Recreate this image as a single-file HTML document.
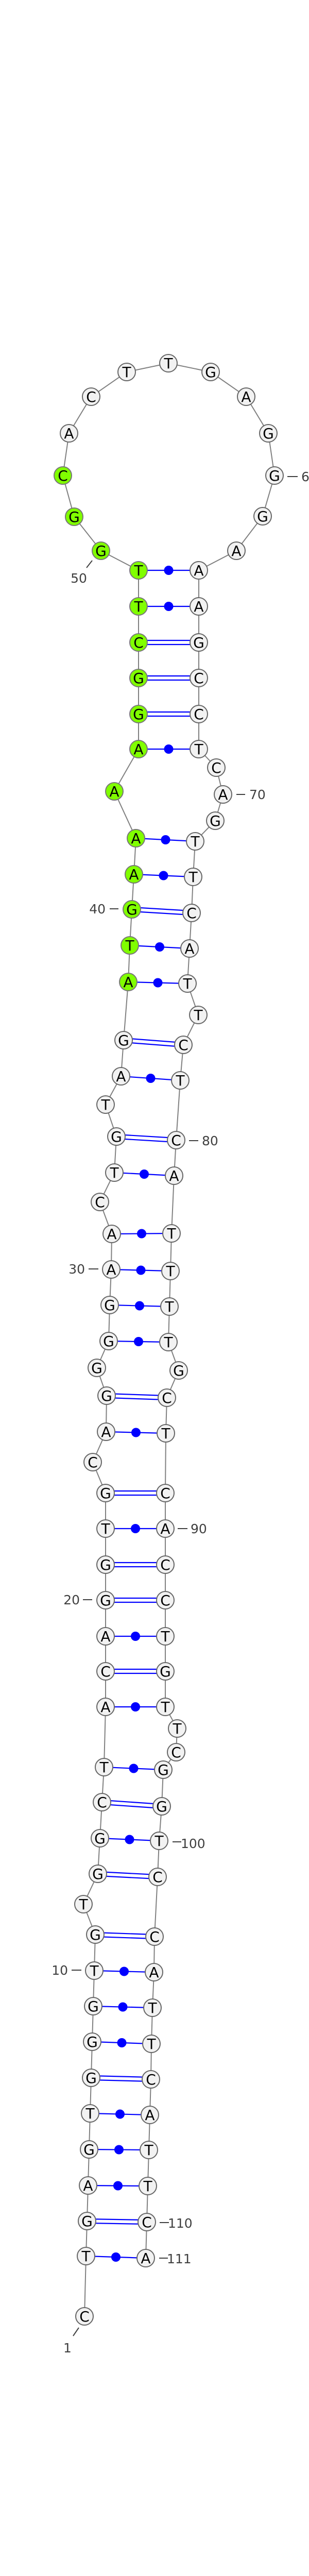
<!DOCTYPE html>
<html><head><meta charset="utf-8"><style>
html,body{margin:0;padding:0;background:#fff;width:600px;height:5166px;overflow:hidden}
svg{display:block}
.bb{fill:none;stroke:#808080;stroke-width:2}
.p{stroke:#0000ff;stroke-width:2.2}
.d{fill:#0000ff}
.n{fill:#f2f2f2;stroke:#666;stroke-width:2}
.g{fill:#80ff00;stroke:#777;stroke-width:2}
.t{font-family:"DejaVu Sans","Liberation Sans",sans-serif;font-size:28px;fill:#000;text-anchor:middle}
.l{font-family:"DejaVu Sans","Liberation Sans",sans-serif;font-size:25px;fill:#404040}
.k{stroke:#404040;stroke-width:2}
</style></head><body>
<svg width="600" height="5166" viewBox="0 0 600 5166" xmlns="http://www.w3.org/2000/svg">
<polyline class="bb" points="164,4496 167,4379 169,4311 171,4242 173,4172 175,4102 177,4033 179,3963 181,3894 183,3825 185,3755 162,3696 190,3637 194,3568 198,3498 202,3430 205,3313 205,3244 205,3176 205,3106 205,3037 205,2967 205,2898 180,2838 206,2779 207,2709 188,2655 211,2603 213,2533 216,2464 217,2395 194,2333 222,2276 226,2206 205,2144 235,2089 240,2019 249,1906 252,1835 256,1765 260,1697 264,1627 222,1536 269,1454 269,1386 269,1316 269,1247 269,1177 269,1107 196,1069 144,1003 122,923 134,841 177,770 246,722 327,705 409,722 478,770 521,841 533,923 510,1002 459,1069 386,1107 386,1177 386,1247 386,1316 386,1386 386,1454 420,1490 433,1542 418,1593 379,1633 375,1702 372,1772 368,1841 364,1909 385,1970 356,2028 350,2097 342,2213 338,2282 333,2394 331,2467 329,2536 327,2605 347,2660 324,2713 322,2782 321,2898 321,2967 321,3037 321,3106 321,3176 321,3244 321,3313 344,3355 342,3401 317,3435 314,3506 309,3573 306,3643 300,3759 299,3828 296,3897 294,3967 293,4036 291,4105 289,4173 287,4243 285,4313 283,4383"/>
<g class="p">
<line x1="167" y1="4379" x2="283" y2="4383"/>
<line x1="171" y1="4242" x2="287" y2="4243"/>
<line x1="173" y1="4172" x2="289" y2="4173"/>
<line x1="175" y1="4102" x2="291" y2="4105"/>
<line x1="179" y1="3963" x2="294" y2="3967"/>
<line x1="181" y1="3894" x2="296" y2="3897"/>
<line x1="183" y1="3825" x2="299" y2="3828"/>
<line x1="194" y1="3568" x2="309" y2="3573"/>
<line x1="202" y1="3430" x2="317" y2="3435"/>
<line x1="205" y1="3313" x2="321" y2="3313"/>
<line x1="205" y1="3176" x2="321" y2="3176"/>
<line x1="205" y1="2967" x2="321" y2="2967"/>
<line x1="206" y1="2779" x2="322" y2="2782"/>
<line x1="211" y1="2603" x2="327" y2="2605"/>
<line x1="213" y1="2533" x2="329" y2="2536"/>
<line x1="216" y1="2464" x2="331" y2="2467"/>
<line x1="217" y1="2395" x2="333" y2="2394"/>
<line x1="222" y1="2276" x2="338" y2="2282"/>
<line x1="235" y1="2089" x2="350" y2="2097"/>
<line x1="249" y1="1906" x2="364" y2="1909"/>
<line x1="252" y1="1835" x2="368" y2="1841"/>
<line x1="260" y1="1697" x2="375" y2="1702"/>
<line x1="264" y1="1627" x2="379" y2="1633"/>
<line x1="269" y1="1454" x2="386" y2="1454"/>
<line x1="269" y1="1177" x2="386" y2="1177"/>
<line x1="269" y1="1107" x2="386" y2="1107"/>
<line x1="169" y1="4307" x2="285" y2="4309"/><line x1="169" y1="4315" x2="285" y2="4317"/>
<line x1="177" y1="4029" x2="293" y2="4032"/><line x1="177" y1="4037" x2="293" y2="4040"/>
<line x1="185" y1="3751" x2="300" y2="3755"/><line x1="185" y1="3759" x2="300" y2="3763"/>
<line x1="190" y1="3633" x2="306" y2="3639"/><line x1="190" y1="3641" x2="306" y2="3647"/>
<line x1="198" y1="3494" x2="314" y2="3502"/><line x1="198" y1="3502" x2="314" y2="3510"/>
<line x1="205" y1="3240" x2="321" y2="3240"/><line x1="205" y1="3248" x2="321" y2="3248"/>
<line x1="205" y1="3102" x2="321" y2="3102"/><line x1="205" y1="3110" x2="321" y2="3110"/>
<line x1="205" y1="3033" x2="321" y2="3033"/><line x1="205" y1="3041" x2="321" y2="3041"/>
<line x1="205" y1="2894" x2="321" y2="2894"/><line x1="205" y1="2902" x2="321" y2="2902"/>
<line x1="207" y1="2705" x2="324" y2="2709"/><line x1="207" y1="2713" x2="324" y2="2717"/>
<line x1="226" y1="2202" x2="342" y2="2209"/><line x1="226" y1="2210" x2="342" y2="2217"/>
<line x1="240" y1="2015" x2="356" y2="2024"/><line x1="240" y1="2023" x2="356" y2="2032"/>
<line x1="256" y1="1761" x2="372" y2="1768"/><line x1="256" y1="1769" x2="372" y2="1776"/>
<line x1="269" y1="1382" x2="386" y2="1382"/><line x1="269" y1="1390" x2="386" y2="1390"/>
<line x1="269" y1="1312" x2="386" y2="1312"/><line x1="269" y1="1320" x2="386" y2="1320"/>
<line x1="269" y1="1243" x2="386" y2="1243"/><line x1="269" y1="1251" x2="386" y2="1251"/>
</g>
<g class="d">
<circle cx="225" cy="4381" r="9"/><circle cx="229" cy="4242.5" r="9"/><circle cx="231" cy="4172.5" r="9"/><circle cx="233" cy="4103.5" r="9"/>
<circle cx="236.5" cy="3965" r="9"/><circle cx="238.5" cy="3895.5" r="9"/><circle cx="241" cy="3826.5" r="9"/><circle cx="251.5" cy="3570.5" r="9"/>
<circle cx="259.5" cy="3432.5" r="9"/><circle cx="263" cy="3313" r="9"/><circle cx="263" cy="3176" r="9"/><circle cx="263" cy="2967" r="9"/>
<circle cx="264" cy="2780.5" r="9"/><circle cx="269" cy="2604" r="9"/><circle cx="271" cy="2534.5" r="9"/><circle cx="273.5" cy="2465.5" r="9"/>
<circle cx="275" cy="2394.5" r="9"/><circle cx="280" cy="2279" r="9"/><circle cx="292.5" cy="2093" r="9"/><circle cx="306.5" cy="1907.5" r="9"/>
<circle cx="310" cy="1838" r="9"/><circle cx="317.5" cy="1699.5" r="9"/><circle cx="321.5" cy="1630" r="9"/><circle cx="327.5" cy="1454" r="9"/>
<circle cx="327.5" cy="1177" r="9"/><circle cx="327.5" cy="1107" r="9"/>
</g>
<g>
<circle class="n" cx="164" cy="4496" r="17"/><text class="t" x="164" y="4506">C</text>
<circle class="n" cx="167" cy="4379" r="17"/><text class="t" x="167" y="4389">T</text>
<circle class="n" cx="169" cy="4311" r="17"/><text class="t" x="169" y="4321">G</text>
<circle class="n" cx="171" cy="4242" r="17"/><text class="t" x="171" y="4252">A</text>
<circle class="n" cx="173" cy="4172" r="17"/><text class="t" x="173" y="4182">G</text>
<circle class="n" cx="175" cy="4102" r="17"/><text class="t" x="175" y="4112">T</text>
<circle class="n" cx="177" cy="4033" r="17"/><text class="t" x="177" y="4043">G</text>
<circle class="n" cx="179" cy="3963" r="17"/><text class="t" x="179" y="3973">G</text>
<circle class="n" cx="181" cy="3894" r="17"/><text class="t" x="181" y="3904">G</text>
<circle class="n" cx="183" cy="3825" r="17"/><text class="t" x="183" y="3835">T</text>
<circle class="n" cx="185" cy="3755" r="17"/><text class="t" x="185" y="3765">G</text>
<circle class="n" cx="162" cy="3696" r="17"/><text class="t" x="162" y="3706">T</text>
<circle class="n" cx="190" cy="3637" r="17"/><text class="t" x="190" y="3647">G</text>
<circle class="n" cx="194" cy="3568" r="17"/><text class="t" x="194" y="3578">G</text>
<circle class="n" cx="198" cy="3498" r="17"/><text class="t" x="198" y="3508">C</text>
<circle class="n" cx="202" cy="3430" r="17"/><text class="t" x="202" y="3440">T</text>
<circle class="n" cx="205" cy="3313" r="17"/><text class="t" x="205" y="3323">A</text>
<circle class="n" cx="205" cy="3244" r="17"/><text class="t" x="205" y="3254">C</text>
<circle class="n" cx="205" cy="3176" r="17"/><text class="t" x="205" y="3186">A</text>
<circle class="n" cx="205" cy="3106" r="17"/><text class="t" x="205" y="3116">G</text>
<circle class="n" cx="205" cy="3037" r="17"/><text class="t" x="205" y="3047">G</text>
<circle class="n" cx="205" cy="2967" r="17"/><text class="t" x="205" y="2977">T</text>
<circle class="n" cx="205" cy="2898" r="17"/><text class="t" x="205" y="2908">G</text>
<circle class="n" cx="180" cy="2838" r="17"/><text class="t" x="180" y="2848">C</text>
<circle class="n" cx="206" cy="2779" r="17"/><text class="t" x="206" y="2789">A</text>
<circle class="n" cx="207" cy="2709" r="17"/><text class="t" x="207" y="2719">G</text>
<circle class="n" cx="188" cy="2655" r="17"/><text class="t" x="188" y="2665">G</text>
<circle class="n" cx="211" cy="2603" r="17"/><text class="t" x="211" y="2613">G</text>
<circle class="n" cx="213" cy="2533" r="17"/><text class="t" x="213" y="2543">G</text>
<circle class="n" cx="216" cy="2464" r="17"/><text class="t" x="216" y="2474">A</text>
<circle class="n" cx="217" cy="2395" r="17"/><text class="t" x="217" y="2405">A</text>
<circle class="n" cx="194" cy="2333" r="17"/><text class="t" x="194" y="2343">C</text>
<circle class="n" cx="222" cy="2276" r="17"/><text class="t" x="222" y="2286">T</text>
<circle class="n" cx="226" cy="2206" r="17"/><text class="t" x="226" y="2216">G</text>
<circle class="n" cx="205" cy="2144" r="17"/><text class="t" x="205" y="2154">T</text>
<circle class="n" cx="235" cy="2089" r="17"/><text class="t" x="235" y="2099">A</text>
<circle class="n" cx="240" cy="2019" r="17"/><text class="t" x="240" y="2029">G</text>
<circle class="g" cx="249" cy="1906" r="17"/><text class="t" x="249" y="1916">A</text>
<circle class="g" cx="252" cy="1835" r="17"/><text class="t" x="252" y="1845">T</text>
<circle class="g" cx="256" cy="1765" r="17"/><text class="t" x="256" y="1775">G</text>
<circle class="g" cx="260" cy="1697" r="17"/><text class="t" x="260" y="1707">A</text>
<circle class="g" cx="264" cy="1627" r="17"/><text class="t" x="264" y="1637">A</text>
<circle class="g" cx="222" cy="1536" r="17"/><text class="t" x="222" y="1546">A</text>
<circle class="g" cx="269" cy="1454" r="17"/><text class="t" x="269" y="1464">A</text>
<circle class="g" cx="269" cy="1386" r="17"/><text class="t" x="269" y="1396">G</text>
<circle class="g" cx="269" cy="1316" r="17"/><text class="t" x="269" y="1326">G</text>
<circle class="g" cx="269" cy="1247" r="17"/><text class="t" x="269" y="1257">C</text>
<circle class="g" cx="269" cy="1177" r="17"/><text class="t" x="269" y="1187">T</text>
<circle class="g" cx="269" cy="1107" r="17"/><text class="t" x="269" y="1117">T</text>
<circle class="g" cx="196" cy="1069" r="17"/><text class="t" x="196" y="1079">G</text>
<circle class="g" cx="144" cy="1003" r="17"/><text class="t" x="144" y="1013">G</text>
<circle class="g" cx="122" cy="923" r="17"/><text class="t" x="122" y="933">C</text>
<circle class="n" cx="134" cy="841" r="17"/><text class="t" x="134" y="851">A</text>
<circle class="n" cx="177" cy="770" r="17"/><text class="t" x="177" y="780">C</text>
<circle class="n" cx="246" cy="722" r="17"/><text class="t" x="246" y="732">T</text>
<circle class="n" cx="327" cy="705" r="17"/><text class="t" x="327" y="715">T</text>
<circle class="n" cx="409" cy="722" r="17"/><text class="t" x="409" y="732">G</text>
<circle class="n" cx="478" cy="770" r="17"/><text class="t" x="478" y="780">A</text>
<circle class="n" cx="521" cy="841" r="17"/><text class="t" x="521" y="851">G</text>
<circle class="n" cx="533" cy="923" r="17"/><text class="t" x="533" y="933">G</text>
<circle class="n" cx="510" cy="1002" r="17"/><text class="t" x="510" y="1012">G</text>
<circle class="n" cx="459" cy="1069" r="17"/><text class="t" x="459" y="1079">A</text>
<circle class="n" cx="386" cy="1107" r="17"/><text class="t" x="386" y="1117">A</text>
<circle class="n" cx="386" cy="1177" r="17"/><text class="t" x="386" y="1187">A</text>
<circle class="n" cx="386" cy="1247" r="17"/><text class="t" x="386" y="1257">G</text>
<circle class="n" cx="386" cy="1316" r="17"/><text class="t" x="386" y="1326">C</text>
<circle class="n" cx="386" cy="1386" r="17"/><text class="t" x="386" y="1396">C</text>
<circle class="n" cx="386" cy="1454" r="17"/><text class="t" x="386" y="1464">T</text>
<circle class="n" cx="420" cy="1490" r="17"/><text class="t" x="420" y="1500">C</text>
<circle class="n" cx="433" cy="1542" r="17"/><text class="t" x="433" y="1552">A</text>
<circle class="n" cx="418" cy="1593" r="17"/><text class="t" x="418" y="1603">G</text>
<circle class="n" cx="379" cy="1633" r="17"/><text class="t" x="379" y="1643">T</text>
<circle class="n" cx="375" cy="1702" r="17"/><text class="t" x="375" y="1712">T</text>
<circle class="n" cx="372" cy="1772" r="17"/><text class="t" x="372" y="1782">C</text>
<circle class="n" cx="368" cy="1841" r="17"/><text class="t" x="368" y="1851">A</text>
<circle class="n" cx="364" cy="1909" r="17"/><text class="t" x="364" y="1919">T</text>
<circle class="n" cx="385" cy="1970" r="17"/><text class="t" x="385" y="1980">T</text>
<circle class="n" cx="356" cy="2028" r="17"/><text class="t" x="356" y="2038">C</text>
<circle class="n" cx="350" cy="2097" r="17"/><text class="t" x="350" y="2107">T</text>
<circle class="n" cx="342" cy="2213" r="17"/><text class="t" x="342" y="2223">C</text>
<circle class="n" cx="338" cy="2282" r="17"/><text class="t" x="338" y="2292">A</text>
<circle class="n" cx="333" cy="2394" r="17"/><text class="t" x="333" y="2404">T</text>
<circle class="n" cx="331" cy="2467" r="17"/><text class="t" x="331" y="2477">T</text>
<circle class="n" cx="329" cy="2536" r="17"/><text class="t" x="329" y="2546">T</text>
<circle class="n" cx="327" cy="2605" r="17"/><text class="t" x="327" y="2615">T</text>
<circle class="n" cx="347" cy="2660" r="17"/><text class="t" x="347" y="2670">G</text>
<circle class="n" cx="324" cy="2713" r="17"/><text class="t" x="324" y="2723">C</text>
<circle class="n" cx="322" cy="2782" r="17"/><text class="t" x="322" y="2792">T</text>
<circle class="n" cx="321" cy="2898" r="17"/><text class="t" x="321" y="2908">C</text>
<circle class="n" cx="321" cy="2967" r="17"/><text class="t" x="321" y="2977">A</text>
<circle class="n" cx="321" cy="3037" r="17"/><text class="t" x="321" y="3047">C</text>
<circle class="n" cx="321" cy="3106" r="17"/><text class="t" x="321" y="3116">C</text>
<circle class="n" cx="321" cy="3176" r="17"/><text class="t" x="321" y="3186">T</text>
<circle class="n" cx="321" cy="3244" r="17"/><text class="t" x="321" y="3254">G</text>
<circle class="n" cx="321" cy="3313" r="17"/><text class="t" x="321" y="3323">T</text>
<circle class="n" cx="344" cy="3355" r="17"/><text class="t" x="344" y="3365">T</text>
<circle class="n" cx="342" cy="3401" r="17"/><text class="t" x="342" y="3411">C</text>
<circle class="n" cx="317" cy="3435" r="17"/><text class="t" x="317" y="3445">G</text>
<circle class="n" cx="314" cy="3506" r="17"/><text class="t" x="314" y="3516">G</text>
<circle class="n" cx="309" cy="3573" r="17"/><text class="t" x="309" y="3583">T</text>
<circle class="n" cx="306" cy="3643" r="17"/><text class="t" x="306" y="3653">C</text>
<circle class="n" cx="300" cy="3759" r="17"/><text class="t" x="300" y="3769">C</text>
<circle class="n" cx="299" cy="3828" r="17"/><text class="t" x="299" y="3838">A</text>
<circle class="n" cx="296" cy="3897" r="17"/><text class="t" x="296" y="3907">T</text>
<circle class="n" cx="294" cy="3967" r="17"/><text class="t" x="294" y="3977">T</text>
<circle class="n" cx="293" cy="4036" r="17"/><text class="t" x="293" y="4046">C</text>
<circle class="n" cx="291" cy="4105" r="17"/><text class="t" x="291" y="4115">A</text>
<circle class="n" cx="289" cy="4173" r="17"/><text class="t" x="289" y="4183">T</text>
<circle class="n" cx="287" cy="4243" r="17"/><text class="t" x="287" y="4253">T</text>
<circle class="n" cx="285" cy="4313" r="17"/><text class="t" x="285" y="4323">C</text>
<circle class="n" cx="283" cy="4383" r="17"/><text class="t" x="283" y="4393">A</text>
</g>
<g>
<line class="k" x1="558" y1="925" x2="578" y2="925"/><text class="l" x="585" y="934">60</text>
<line class="k" x1="179" y1="1088" x2="168" y2="1102"/><text class="l" x="153" y="1131" text-anchor="middle">50</text>
<line class="k" x1="459" y1="1542" x2="476" y2="1542"/><text class="l" x="484" y="1551">70</text>
<line class="k" x1="213" y1="1764" x2="230" y2="1764"/><text class="l" x="205" y="1773" text-anchor="end">40</text>
<line class="k" x1="367" y1="2214" x2="385" y2="2214"/><text class="l" x="392" y="2223">80</text>
<line class="k" x1="172" y1="2463" x2="191" y2="2463"/><text class="l" x="165" y="2472" text-anchor="end">30</text>
<line class="k" x1="345" y1="2967" x2="364" y2="2967"/><text class="l" x="370" y="2976">90</text>
<line class="k" x1="161" y1="3105" x2="179" y2="3105"/><text class="l" x="155" y="3114" text-anchor="end">20</text>
<line class="k" x1="335" y1="3575" x2="352" y2="3575"/><text class="l" x="351" y="3587">100</text>
<line class="k" x1="139" y1="3824" x2="158" y2="3824"/><text class="l" x="132" y="3833" text-anchor="end">10</text>
<line class="k" x1="310" y1="4314" x2="328" y2="4314"/><text class="l" x="326" y="4324">110</text>
<line class="k" x1="309" y1="4383" x2="326" y2="4383"/><text class="l" x="324" y="4393">111</text>
<line class="k" x1="153" y1="4518" x2="142" y2="4534"/><text class="l" x="131" y="4566" text-anchor="middle">1</text>
</g>
<text x="300" y="5160" text-anchor="middle" style="font-family:'Liberation Sans',sans-serif;font-weight:bold;font-size:12.5px;fill:#000">hsa-mir-8059_annot [-42.5]</text>
</svg>
</body></html>
